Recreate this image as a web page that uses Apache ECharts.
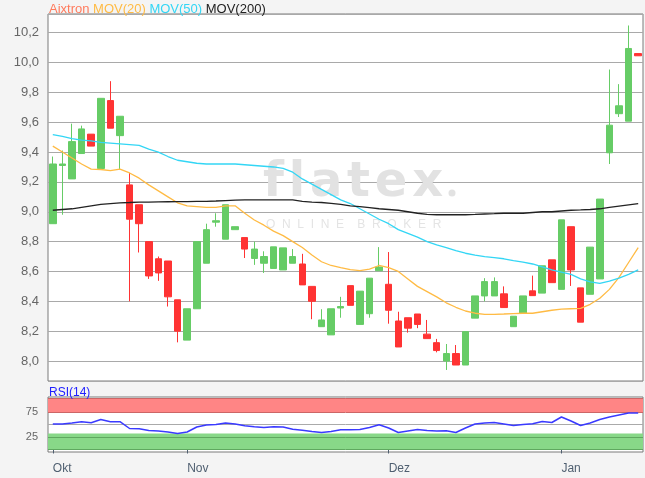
<!DOCTYPE html>
<html>
<head>
<meta charset="utf-8">
<script src="https://cdn.jsdelivr.net/npm/echarts@6/dist/echarts.min.js"></script>
<style>
html,body{margin:0;padding:0;background:#f4f4f4;}
#c{width:645px;height:478px;}
</style>
</head>
<body>
<div id="c"></div>
<script>
const dates = ['14.10.','15.10.','16.10.','17.10.','18.10.','21.10.','22.10.','23.10.','24.10.','25.10.','28.10.','29.10.','30.10.','31.10.',
 '01.11.','04.11.','05.11.','06.11.','07.11.','08.11.','11.11.','12.11.','13.11.','14.11.','15.11.','18.11.','19.11.','20.11.','21.11.','22.11.','25.11.','26.11.','27.11.','28.11.','29.11.',
 '02.12.','03.12.','04.12.','05.12.','06.12.','09.12.','10.12.','11.12.','12.12.','13.12.','16.12.','17.12.','18.12.','19.12.','20.12.','23.12.','27.12.','30.12.',
 '02.01.','03.01.','06.01.','07.01.','08.01.','09.01.','10.01.','13.01.','14.01.'];
const monthTickIdx = [0, 14, 35, 53];
const monthTickText = ['Okt', 'Nov', 'Dez', 'Jan'];

const opens = [8.92,9.31,9.22,9.39,9.52,9.29,9.745,9.51,9.18,9.047, 8.80,8.685,8.67,8.41,8.14,8.35,8.655,8.93,8.816,8.88, 8.827,8.687,8.655,8.62,8.61,8.655,8.65,8.50,8.23,8.175, 8.355,8.505,8.245,8.317,8.605,8.514,8.268,8.29,8.315,8.18, 8.123,8.00,8.05,7.973,8.287,8.436,8.436,8.45,8.23,8.32, 8.47,8.455,8.678,8.48,8.90,8.49,8.447,8.55,9.395,9.657, 9.607,10.06];
const closes = [9.32,9.32,9.47,9.555,9.44,9.76,9.56,9.64,8.95,8.92, 8.57,8.59,8.43,8.20,8.35,8.80,8.88,8.94,9.047,8.90, 8.75,8.75,8.70,8.765,8.758,8.70,8.51,8.40,8.275,8.35, 8.365,8.373,8.468,8.555,8.63,8.34,8.094,8.22,8.245,8.15, 8.07,8.05,7.973,8.197,8.436,8.532,8.532,8.358,8.30,8.436, 8.438,8.638,8.525,8.946,8.61,8.26,8.763,9.085,9.58,9.71, 10.094,10.045];
const lows = [8.92,8.98,9.22,9.39,9.44,9.29,9.56,9.28,8.40,8.727, 8.55,8.537,8.365,8.125,8.14,8.35,8.655,8.90,8.816,8.88, 8.69,8.644,8.59,8.62,8.61,8.655,8.51,8.28,8.23,8.175, 8.29,8.373,8.245,8.29,8.605,8.25,8.094,8.19,8.22,8.15, 8.058,7.94,7.973,7.973,8.287,8.40,8.436,8.358,8.23,8.32, 8.438,8.455,8.525,8.48,8.503,8.26,8.447,8.55,9.32,9.635, 9.607,10.045];
const highs = [9.37,9.41,9.59,9.577,9.52,9.76,9.875,9.64,9.26,9.047, 8.80,8.70,8.67,8.41,8.35,8.80,8.92,8.99,9.047,8.90, 8.827,8.80,8.735,8.765,8.758,8.75,8.718,8.50,8.347,8.35, 8.43,8.505,8.468,8.555,8.763,8.73,8.33,8.29,8.315,8.275, 8.148,8.114,8.107,8.197,8.436,8.555,8.56,8.50,8.30,8.436, 8.572,8.638,8.678,8.946,8.90,8.49,8.763,9.085,9.953,9.855, 10.248,10.06];

const mov20 = [9.44,9.40,9.36,9.32,9.286,9.283,9.275,9.286,9.26,9.225, 9.18,9.14,9.10,9.06,9.04,9.035,9.03,9.03,9.04,9.04, 8.99,8.945,8.91,8.87,8.84,8.80,8.76,8.71,8.665,8.64, 8.625,8.612,8.605,8.615,8.64,8.625,8.60,8.55,8.50,8.465, 8.43,8.39,8.36,8.335,8.32,8.313,8.313,8.315,8.318,8.32, 8.32,8.33,8.34,8.347,8.35,8.353,8.38,8.42,8.48,8.56, 8.66,8.76];
const mov50 = [9.517,9.505,9.49,9.48,9.475,9.465,9.46,9.455,9.45,9.445, 9.42,9.40,9.37,9.345,9.335,9.325,9.32,9.32,9.32,9.32, 9.315,9.31,9.305,9.30,9.29,9.265,9.22,9.185,9.15,9.115, 9.08,9.055,9.02,8.985,8.95,8.92,8.88,8.855,8.83,8.80, 8.778,8.76,8.74,8.722,8.71,8.70,8.693,8.685,8.672,8.662, 8.65,8.63,8.61,8.595,8.58,8.55,8.53,8.52,8.535,8.555, 8.58,8.61];
const mov200 = [9.01,9.015,9.02,9.03,9.04,9.05,9.055,9.06,9.062,9.065, 9.065,9.066,9.067,9.068,9.068,9.07,9.07,9.072,9.075,9.078, 9.08,9.08,9.08,9.08,9.08,9.08,9.07,9.065,9.062,9.056, 9.05,9.04,9.035,9.028,9.02,9.015,9.01,9.0,8.99,8.982, 8.98,8.98,8.98,8.98,8.982,8.985,8.987,8.99,8.99,8.99, 8.995,9.0,9.0,9.005,9.01,9.012,9.015,9.02,9.03,9.038, 9.046,9.054];
const rsi = [51,51,53,55.6,53.6,60,55.6,55.6,42,41.6, 38,37,35,32,35,45,49,50,53,51, 47.5,45.5,44,45.5,45,40.5,38.5,36,34,36, 39.6,39.6,40,44,49.6,43,34,37,40,38, 37,37.6,34,43,51,53,54,51,48,50, 51.6,56,54,65,57,48,53,60,65,69, 73,73];

const FONT = "'Liberation Sans', Arial, sans-serif";
const chart = echarts.init(document.getElementById('c'), null, {renderer: 'canvas'});

const candleData = opens.map((o, i) => [o, closes[i], lows[i], highs[i]]);
const fmtPrice = v => v.toFixed(1).replace('.', ',');
const HS = '\u200A';

chart.setOption({
  animation: false,
  backgroundColor: '#f4f4f4',
  title: {
    left: 49, top: 3, padding: 0,
    text: '{a|Aixtron} {b|MOV(20)} {c|MOV(50)} {d|MOV(200)}',
    textStyle: {
      fontSize: 13, fontWeight: 'normal', fontFamily: FONT, color: '#222',
      rich: {
        a: {color: '#ff7a5c', fontSize: 13, fontFamily: FONT},
        b: {color: '#ffbb44', fontSize: 13, fontFamily: FONT},
        c: {color: '#33d6f5', fontSize: 13, fontFamily: FONT},
        d: {color: '#222222', fontSize: 13, fontFamily: FONT}
      }
    }
  },
  graphic: [
    {type: 'text', left: 263, top: 160, z: 1, silent: true,
     style: {text: ['f','l','a','t','e','x'].join(HS), fontSize: 48, fontWeight: 'bold', fontFamily: "'DejaVu Sans', sans-serif", fill: '#e2e2e2'}},
    {type: 'circle', shape: {cx: 452, cy: 193, r: 3.5}, z: 1, silent: true, style: {fill: '#e2e2e2'}},
    {type: 'text', left: 266, top: 219, z: 1, silent: true,
     style: {text: 'O  N  L  I  N  E    B  R  O  K  E  R', fontSize: 12, fontFamily: FONT, fill: '#e4e4e4'}}
  ],
  grid: [
    {left: 48, right: 2, top: 14, height: 367, show: true, backgroundColor: '#ffffff', borderColor: '#7a7a7a', borderWidth: 1},
    {left: 48, right: 2, top: 397, height: 55, show: true, backgroundColor: '#ffffff', borderColor: '#7a7a7a', borderWidth: 1}
  ],
  xAxis: [
    {type: 'category', gridIndex: 0, data: dates, boundaryGap: true,
     axisLine: {show: false}, axisTick: {show: false}, axisLabel: {show: false}, splitLine: {show: false}},
    {type: 'category', gridIndex: 1, data: dates, boundaryGap: true,
     axisLine: {show: false},
     axisTick: {show: true, alignWithLabel: true, length: 4, interval: (i) => monthTickIdx.includes(i), lineStyle: {color: '#4f5f70'}},
     axisLabel: {show: true, interval: (i) => monthTickIdx.includes(i), align: 'left', margin: 11, fontSize: 12, fontFamily: FONT, color: '#4f5f70',
       formatter: (v, i) => { const k = monthTickIdx.indexOf(i); return k >= 0 ? monthTickText[k] : ''; }},
     splitLine: {show: false}}
  ],
  yAxis: [
    {type: 'value', gridIndex: 0, min: 7.866, max: 10.325, splitNumber: 12, scale: true,
     axisLine: {show: false}, axisTick: {show: false},
     axisLabel: {fontSize: 13, fontFamily: FONT, color: '#666', margin: 9, showMinLabel: false, showMaxLabel: false, formatter: fmtPrice},
     splitLine: {show: true, lineStyle: {color: '#a9a9a9', width: 1.2}}},
    {type: 'value', gridIndex: 1, min: -5, max: 105, interval: 5,
     axisLine: {show: false}, axisTick: {show: false}, splitLine: {show: false},
     axisLabel: {fontSize: 11, fontFamily: FONT, color: '#666', margin: 10,
       formatter: v => (v === 25 || v === 75) ? String(v) : ''}}
  ],
  series: [
    {type: 'candlestick', xAxisIndex: 0, yAxisIndex: 0, data: candleData, barWidth: 7, z: 3,
     itemStyle: {color: '#66cc66', color0: '#ff3333', borderColor: '#66cc66', borderColor0: '#ff3333', borderWidth: 1}},
    {type: 'line', name: 'MOV(20)', xAxisIndex: 0, yAxisIndex: 0, data: mov20, showSymbol: false, smooth: false, z: 4,
     lineStyle: {color: '#ffbb44', width: 1.3}},
    {type: 'line', name: 'MOV(50)', xAxisIndex: 0, yAxisIndex: 0, data: mov50, showSymbol: false, z: 4,
     lineStyle: {color: '#33d6f5', width: 1.3}},
    {type: 'line', name: 'MOV(200)', xAxisIndex: 0, yAxisIndex: 0, data: mov200, showSymbol: false, z: 4,
     lineStyle: {color: '#222222', width: 1.3}},
    {type: 'line', name: 'RSI(14)', xAxisIndex: 1, yAxisIndex: 1, data: rsi, showSymbol: false, z: 5,
     lineStyle: {color: '#3a3aff', width: 1.5},
     markArea: {silent: true, data: [
       [{yAxis: 75, itemStyle: {color: '#ff8585'}}, {yAxis: 103}],
       [{yAxis: 0, itemStyle: {color: '#88d888'}}, {yAxis: 32}]
     ]},
     markLine: {silent: true, symbol: 'none', label: {show: false}, data: [
       {yAxis: 103, lineStyle: {color: '#cc6666', width: 1, type: 'solid'}},
       {yAxis: 75, lineStyle: {color: '#cc6666', width: 1, type: 'solid'}},
       {yAxis: 50, lineStyle: {color: '#aaaaaa', width: 1, type: 'solid'}},
       {yAxis: 25, lineStyle: {color: '#5fa85f', width: 1, type: 'solid'}},
       {yAxis: 0, lineStyle: {color: '#5fa85f', width: 1, type: 'solid'}}
     ]}}
  ]
});
</script>
<div style="position:absolute;left:49px;top:385px;font:12px 'Liberation Sans',Arial,sans-serif;color:#2020ff;">RSI(14)</div>
</body>
</html>
